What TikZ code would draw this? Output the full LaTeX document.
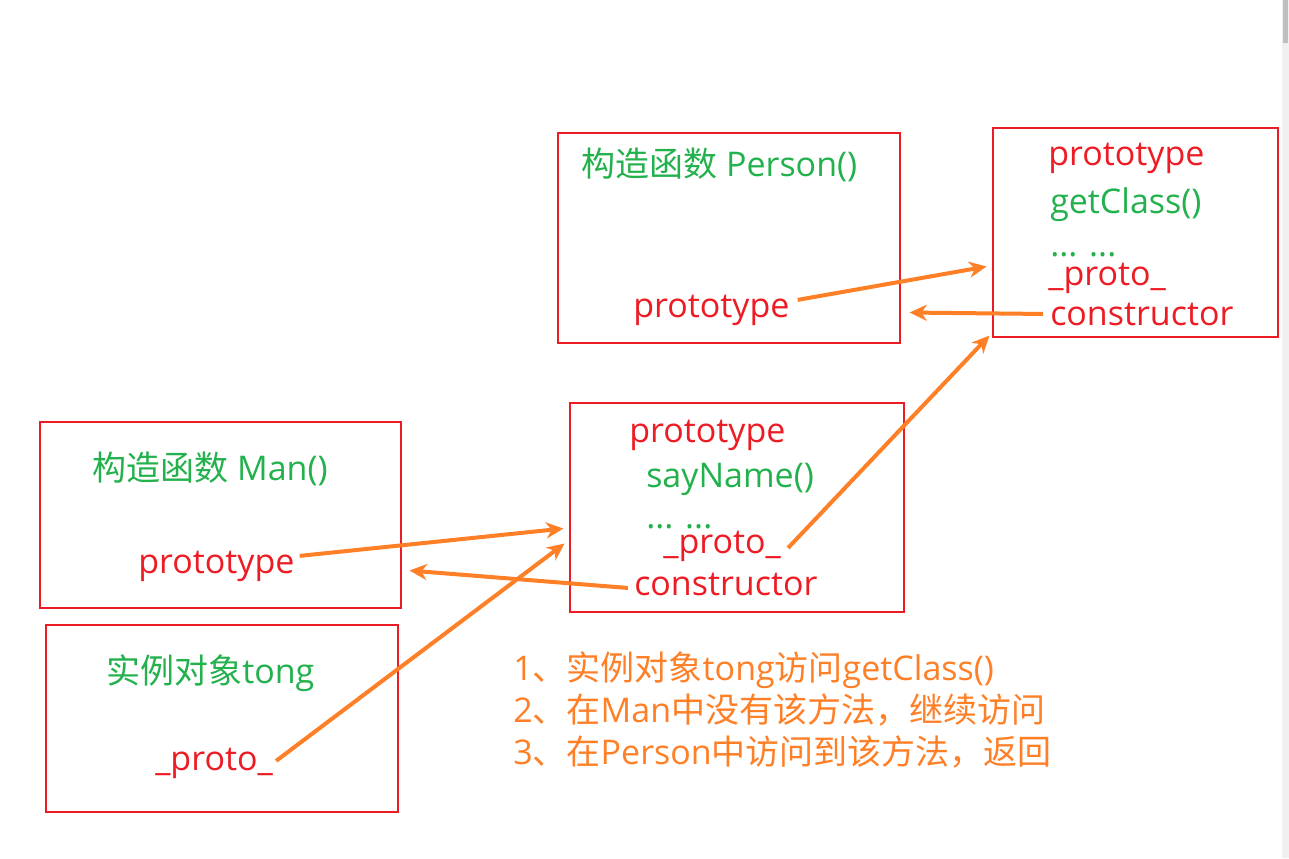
\documentclass[tikz,border=0pt]{standalone}
\usepackage{fontspec}
\setmainfont{Open Sans}
\newfontfamily\cjk{Noto Sans CJK SC}
\usepackage{tikz}
\usetikzlibrary{arrows.meta,calc,fit}
\definecolor{boxred}{HTML}{ED1C24}
\definecolor{txtgreen}{HTML}{22B14C}
\definecolor{linkorange}{HTML}{FF7F27}
\tikzset{
  >={Stealth[length=13pt,width=12pt,inset=4pt]},
  frame/.style ={rectangle, draw=boxred, line width=2.2pt, inner sep=0pt},
  key/.style   ={anchor=base west, inner sep=0pt, text=boxred,
                 font=\fontsize{25.5pt}{30pt}\selectfont},
  val/.style   ={key, text=txtgreen},
  note/.style  ={key, text=linkorange},
  link/.style  ={->, draw=linkorange, line width=3pt},
}
\begin{document}
\begin{tikzpicture}[x=0.75pt,y=-0.75pt]
\useasboundingbox (0,0) rectangle (1289,858);
% ---- scroll bar -----------------------------------------------------
\fill[black!6]  (1282,0) rectangle (1289,858);
\fill[black!25] (1283,0) rectangle (1288,43);

% ---- frames ---------------------------------------------------------
\node[frame, fit={(558,133) (900,343)}]  (person) {};
\node[frame, fit={(993,128) (1278,337)}] (objP)   {};
\node[frame, fit={(40,422) (401,608)}]   (man)    {};
\node[frame, fit={(570,403) (904,612)}]  (objM)   {};
\node[frame, fit={(46,625) (398,812)}]   (tong)   {};

% ---- Person and its prototype ---------------------------------------
\node[val] (titleP) at (581,176) {{\cjk 构造函数} Person()};
\node[key] (ptP)    at (633,317) {prototype};
\node[key] (ptO)    at (1048,165) {prototype};
\node[val] (gcO)    at (1050,213) {getClass()};
\node[val] (dotO)   at (1050,256) {... ...};
\node[key] (pxO)    at (1048,285) {\_proto\_};
\node[key] (cnO)    at (1050,325) {constructor};

% ---- Man and its prototype ------------------------------------------
\node[val] (titleM) at (92,480)  {{\cjk 构造函数} Man()};
\node[key] (ptM)    at (138,573) {prototype};
\node[key] (ptMo)   at (629,442) {prototype};
\node[val] (snM)    at (646,487) {sayName()};
\node[val] (dotM)   at (646,528) {... ...};
\node[key] (pxM)    at (663,553) {\_proto\_};
\node[key] (cnM)    at (634,595) {constructor};

% ---- instance -------------------------------------------------------
\node[val] (titleT) at (106,683) {{\cjk 实例对象}tong};
\node[key] (pxT)    at (155,770) {\_proto\_};

% ---- lookup steps ---------------------------------------------------
\node[note] (n1) at (513,680) {1{\cjk 、实例对象}tong{\cjk 访问}getClass()};
\node[note] (n2) at (513,722) {2{\cjk 、在}Man{\cjk 中没有该方法，继续访问}};
\node[note] (n3) at (513,764) {3{\cjk 、在}Person{\cjk 中访问到该方法，返回}};

% ---- links ----------------------------------------------------------
\draw[link] ($(ptP.east)+(8,-10)$)  -- ($(objP.north west)+(-5,140)$);
\draw[link] ($(cnO.west)+(-7,0)$)   -- ($(person.north east)+(8,181)$);
\draw[link] ($(pxM.east)+(7,2)$)    -- ($(objM.north east)+(84,-66)$);
\draw[link] ($(ptM.east)+(5,-10)$)  -- ($(objM.north west)+(-5,127)$);
\draw[link] ($(cnM.west)+(-6,4)$)   -- ($(man.north east)+(7,150)$);
\draw[link] ($(pxT.east)+(3,-2)$)   -- ($(objM.north west)+(-4,142)$);
\end{tikzpicture}
\end{document}
